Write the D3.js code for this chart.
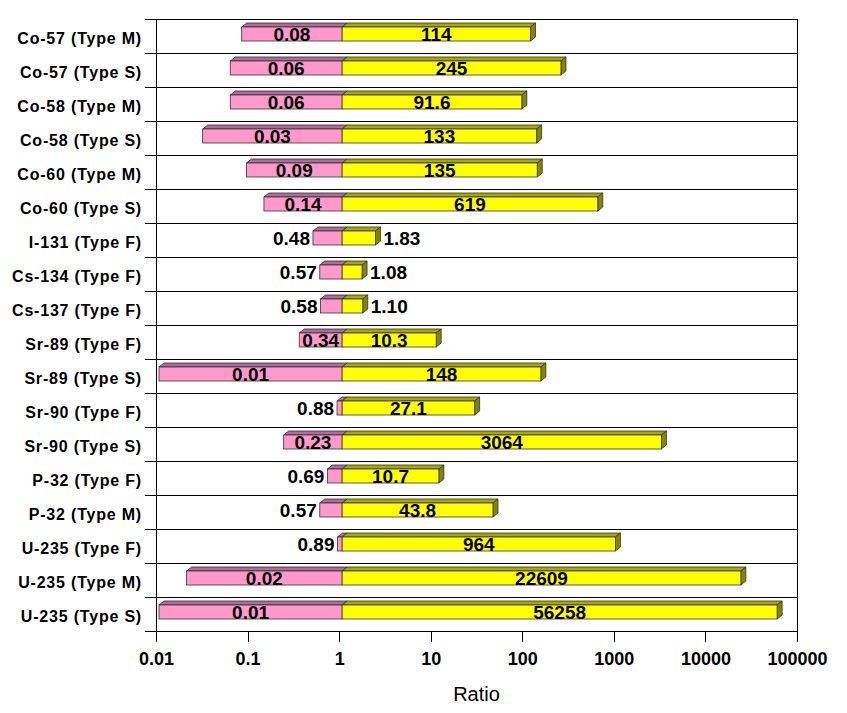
<!DOCTYPE html>
<html>
<head>
<meta charset="utf-8">
<script src="https://cdn.jsdelivr.net/npm/d3@7"></script>
<style>
  html, body { margin: 0; padding: 0; background: #fff; }
  svg { display: block; }
</style>
</head>
<body>
<svg id="chart" width="847" height="713"></svg>
<script>
// ---- data ----
const categories = [
  "Co-57 (Type M)", "Co-57 (Type S)", "Co-58 (Type M)", "Co-58 (Type S)",
  "Co-60 (Type M)", "Co-60 (Type S)", "I-131 (Type F)", "Cs-134 (Type F)",
  "Cs-137 (Type F)", "Sr-89 (Type F)", "Sr-89 (Type S)", "Sr-90 (Type F)",
  "Sr-90 (Type S)", "P-32 (Type F)", "P-32 (Type M)", "U-235 (Type F)",
  "U-235 (Type M)", "U-235 (Type S)"
];
const lowValues = [0.08, 0.06, 0.06, 0.03, 0.09, 0.14, 0.48, 0.57, 0.58, 0.34, 0.01, 0.88, 0.23, 0.69, 0.57, 0.89, 0.02, 0.01];
const highValues = [114, 245, 91.6, 133, 135, 619, 1.83, 1.08, 1.10, 10.3, 148, 27.1, 3064, 10.7, 43.8, 964, 22609, 56258];
const xTickValues = [0.01, 0.1, 1, 10, 100, 1000, 10000, 100000];
const xTickLabels = ["0.01", "0.1", "1", "10", "100", "1000", "10000", "100000"];
const xTitle = "Ratio";

// ---- layout ----
const font = "'Liberation Sans', Arial, Helvetica, sans-serif";
const plotLeft = 156, plotRight = 797, plotTop = 19, plotBottom = 631;
const shift = 3;          // front face offset (3D look)
const dx = 5, dy = 4;     // depth
const faceOff = 8, faceH = 14;

const pinkFront = "#ff99cc", pinkTop = "#b06c98";
const yellowFront = "#ffff00", yellowTop = "#a8a800", yellowSide = "#858500";
const edge = "#333333";

const svg = d3.select("#chart");
svg.append("rect").attr("width", 847).attr("height", 713).attr("fill", "#fff");

const x = d3.scaleLog().domain([0.01, 100000]).range([plotLeft, plotRight]);
const y = d3.scaleBand().domain(categories).range([plotTop, plotBottom]);

// separators (extend left past the frame)
const seps = categories.map(c => y(c)).concat([plotBottom]);
svg.append("g").selectAll("line").data(seps).join("line")
  .attr("x1", 145).attr("x2", plotRight)
  .attr("y1", d => d).attr("y2", d => d)
  .attr("stroke", "#000").attr("stroke-width", 1).attr("shape-rendering", "crispEdges");

// frame verticals
svg.append("line").attr("x1", plotLeft).attr("x2", plotLeft).attr("y1", plotTop).attr("y2", plotBottom)
  .attr("stroke", "#000").attr("shape-rendering", "crispEdges");
svg.append("line").attr("x1", plotRight).attr("x2", plotRight).attr("y1", plotTop).attr("y2", plotBottom)
  .attr("stroke", "#000").attr("shape-rendering", "crispEdges");

// x axis
const xAxis = d3.axisBottom(x).tickValues(xTickValues)
  .tickFormat((d, i) => xTickLabels[i]).tickSize(11).tickSizeOuter(0).tickPadding(10);
const gx = svg.append("g").attr("transform", `translate(0,${plotBottom})`).call(xAxis);
gx.select(".domain").attr("stroke", "#000").attr("shape-rendering", "crispEdges");
gx.selectAll(".tick line").attr("stroke", "#000").attr("shape-rendering", "crispEdges");
gx.selectAll(".tick text").attr("font-family", font).attr("font-size", 18)
  .attr("font-weight", "bold").attr("fill", "#000");

svg.append("text").attr("x", (plotLeft + plotRight) / 2).attr("y", 701)
  .attr("text-anchor", "middle").attr("font-family", font).attr("font-size", 20)
  .attr("fill", "#000").text(xTitle);

// category labels
svg.append("g").selectAll("text").data(categories).join("text")
  .attr("x", 142).attr("y", d => y(d) + y.bandwidth() / 2 + 2)
  .attr("dy", "0.35em").attr("text-anchor", "end")
  .attr("font-family", font).attr("font-size", 16).attr("font-weight", "bold")
  .attr("letter-spacing", 0.8).attr("fill", "#000").text(d => d);

// bars: pink from 1 down to low value; yellow stacked (Excel-style) from 1 to low+high
const fmtLow = v => v.toFixed(2);
const fmtHigh = v => v >= 1000 ? d3.format("d")(v) : d3.format(".3r")(v);

const bars = svg.append("g");
categories.forEach((c, i) => {
  const ft = y(c) + faceOff;
  const lo = lowValues[i], hi = highValues[i];
  const x0 = x(lo) + shift, x1 = x(1) + shift, x2 = x(lo + hi) + shift;
  const g = bars.append("g");
  // top faces
  g.append("path").attr("d", `M${x0},${ft} L${x0 + dx},${ft - dy} L${x1 + dx},${ft - dy} L${x1},${ft} Z`)
    .attr("fill", pinkTop).attr("stroke", edge).attr("stroke-width", 0.8).attr("stroke-linejoin", "round");
  g.append("path").attr("d", `M${x1},${ft} L${x1 + dx},${ft - dy} L${x2 + dx},${ft - dy} L${x2},${ft} Z`)
    .attr("fill", yellowTop).attr("stroke", edge).attr("stroke-width", 0.8).attr("stroke-linejoin", "round");
  // side face
  g.append("path").attr("d", `M${x2},${ft} L${x2 + dx},${ft - dy} L${x2 + dx},${ft + faceH - dy} L${x2},${ft + faceH} Z`)
    .attr("fill", yellowSide).attr("stroke", edge).attr("stroke-width", 0.8).attr("stroke-linejoin", "round");
  // front faces
  g.append("rect").attr("x", x0).attr("y", ft).attr("width", x1 - x0).attr("height", faceH)
    .attr("fill", pinkFront).attr("stroke", edge).attr("stroke-width", 0.8);
  g.append("rect").attr("x", x1).attr("y", ft).attr("width", x2 - x1).attr("height", faceH)
    .attr("fill", yellowFront).attr("stroke", edge).attr("stroke-width", 0.8);

  // labels
  const base = ft + faceH;
  const tLo = g.append("text").attr("y", base).attr("font-family", font).attr("font-size", 19)
    .attr("font-weight", "bold").attr("fill", "#000").text(fmtLow(lo));
  const wLo = tLo.node().getComputedTextLength();
  if (x1 - x0 >= wLo + 4) tLo.attr("x", (x0 + x1) / 2).attr("text-anchor", "middle");
  else tLo.attr("x", x0 - 3).attr("text-anchor", "end");

  const tHi = g.append("text").attr("y", base).attr("font-family", font).attr("font-size", 19)
    .attr("font-weight", "bold").attr("fill", "#000").text(fmtHigh(hi));
  const wHi = tHi.node().getComputedTextLength();
  if (x2 - x1 >= wHi + 6) tHi.attr("x", (x1 + x2) / 2).attr("text-anchor", "middle");
  else tHi.attr("x", x2 + dx + 3).attr("text-anchor", "start");
});
</script>
</body>
</html>
